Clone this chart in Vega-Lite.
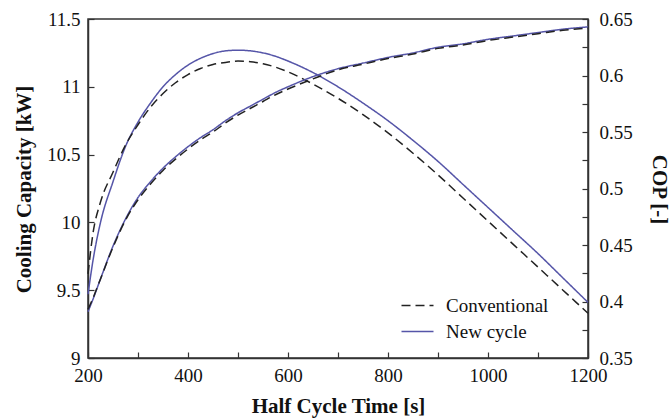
{
  "$schema": "https://vega.github.io/schema/vega-lite/v6.json",
  "width": 500,
  "height": 339,
  "autosize": {"type": "none"},
  "padding": {"left": 88, "top": 19, "right": 82, "bottom": 60},
  "background": "white",
  "config": {
    "font": "Liberation Serif",
    "view": {"stroke": "#333333", "strokeWidth": 1.5},
    "axis": {
      "labelFont": "Liberation Serif",
      "titleFont": "Liberation Serif",
      "labelFontSize": 19,
      "titleFontSize": 21,
      "titleFontWeight": "bold",
      "labelColor": "#111111",
      "titleColor": "#111111",
      "domainColor": "#333333",
      "tickColor": "#333333",
      "domainWidth": 1.5,
      "tickWidth": 1.2,
      "tickSize": -6,
      "grid": false,
      "labelOverlap": false,
      "labelFlush": false
    },
    "legend": {
      "orient": "none",
      "legendX": 320,
      "legendY": 277,
      "title": null,
      "symbolType": "M-2,0H2",
      "symbolSize": 256,
      "symbolStrokeWidth": 1.7,
      "labelFont": "Liberation Serif",
      "labelFontSize": 19,
      "labelColor": "#111111",
      "labelOffset": 19,
      "rowPadding": 6,
      "padding": 0
    }
  },
  "data": {
    "values": [
      {"time": 200, "cycle": "New cycle", "capacity": 9.47, "cop": 0.391},
      {"time": 210, "cycle": "New cycle", "capacity": 9.72, "cop": 0.402},
      {"time": 225, "cycle": "New cycle", "capacity": 10.0, "cop": 0.42},
      {"time": 250, "cycle": "New cycle", "capacity": 10.3, "cop": 0.449},
      {"time": 275, "cycle": "New cycle", "capacity": 10.56, "cop": 0.473},
      {"time": 300, "cycle": "New cycle", "capacity": 10.74, "cop": 0.492},
      {"time": 325, "cycle": "New cycle", "capacity": 10.88, "cop": 0.506},
      {"time": 350, "cycle": "New cycle", "capacity": 11.0, "cop": 0.518},
      {"time": 375, "cycle": "New cycle", "capacity": 11.09, "cop": 0.528},
      {"time": 400, "cycle": "New cycle", "capacity": 11.16, "cop": 0.537},
      {"time": 425, "cycle": "New cycle", "capacity": 11.21, "cop": 0.545},
      {"time": 450, "cycle": "New cycle", "capacity": 11.245, "cop": 0.552},
      {"time": 475, "cycle": "New cycle", "capacity": 11.265, "cop": 0.56},
      {"time": 500, "cycle": "New cycle", "capacity": 11.27, "cop": 0.567},
      {"time": 525, "cycle": "New cycle", "capacity": 11.265, "cop": 0.573},
      {"time": 550, "cycle": "New cycle", "capacity": 11.25, "cop": 0.579},
      {"time": 575, "cycle": "New cycle", "capacity": 11.225, "cop": 0.585},
      {"time": 600, "cycle": "New cycle", "capacity": 11.19, "cop": 0.59},
      {"time": 650, "cycle": "New cycle", "capacity": 11.105, "cop": 0.599},
      {"time": 700, "cycle": "New cycle", "capacity": 11.0, "cop": 0.606},
      {"time": 750, "cycle": "New cycle", "capacity": 10.88, "cop": 0.611},
      {"time": 800, "cycle": "New cycle", "capacity": 10.75, "cop": 0.616},
      {"time": 850, "cycle": "New cycle", "capacity": 10.605, "cop": 0.62},
      {"time": 900, "cycle": "New cycle", "capacity": 10.45, "cop": 0.625},
      {"time": 950, "cycle": "New cycle", "capacity": 10.28, "cop": 0.628},
      {"time": 1000, "cycle": "New cycle", "capacity": 10.11, "cop": 0.632},
      {"time": 1050, "cycle": "New cycle", "capacity": 9.94, "cop": 0.635},
      {"time": 1100, "cycle": "New cycle", "capacity": 9.77, "cop": 0.638},
      {"time": 1150, "cycle": "New cycle", "capacity": 9.59, "cop": 0.641},
      {"time": 1200, "cycle": "New cycle", "capacity": 9.41, "cop": 0.643},
      {"time": 200, "cycle": "Conventional", "capacity": 9.62, "cop": 0.393},
      {"time": 210, "cycle": "Conventional", "capacity": 9.92, "cop": 0.403},
      {"time": 225, "cycle": "Conventional", "capacity": 10.15, "cop": 0.42},
      {"time": 250, "cycle": "Conventional", "capacity": 10.37, "cop": 0.448},
      {"time": 275, "cycle": "Conventional", "capacity": 10.57, "cop": 0.472},
      {"time": 300, "cycle": "Conventional", "capacity": 10.72, "cop": 0.49},
      {"time": 325, "cycle": "Conventional", "capacity": 10.85, "cop": 0.504},
      {"time": 350, "cycle": "Conventional", "capacity": 10.95, "cop": 0.516},
      {"time": 375, "cycle": "Conventional", "capacity": 11.03, "cop": 0.526},
      {"time": 400, "cycle": "Conventional", "capacity": 11.09, "cop": 0.535},
      {"time": 425, "cycle": "Conventional", "capacity": 11.135, "cop": 0.543},
      {"time": 450, "cycle": "Conventional", "capacity": 11.165, "cop": 0.55},
      {"time": 475, "cycle": "Conventional", "capacity": 11.18, "cop": 0.558},
      {"time": 500, "cycle": "Conventional", "capacity": 11.19, "cop": 0.565},
      {"time": 525, "cycle": "Conventional", "capacity": 11.185, "cop": 0.571},
      {"time": 550, "cycle": "Conventional", "capacity": 11.17, "cop": 0.577},
      {"time": 575, "cycle": "Conventional", "capacity": 11.145, "cop": 0.583},
      {"time": 600, "cycle": "Conventional", "capacity": 11.11, "cop": 0.588},
      {"time": 650, "cycle": "Conventional", "capacity": 11.02, "cop": 0.597},
      {"time": 700, "cycle": "Conventional", "capacity": 10.915, "cop": 0.605},
      {"time": 750, "cycle": "Conventional", "capacity": 10.795, "cop": 0.61},
      {"time": 800, "cycle": "Conventional", "capacity": 10.66, "cop": 0.615},
      {"time": 850, "cycle": "Conventional", "capacity": 10.51, "cop": 0.619},
      {"time": 900, "cycle": "Conventional", "capacity": 10.35, "cop": 0.624},
      {"time": 950, "cycle": "Conventional", "capacity": 10.18, "cop": 0.627},
      {"time": 1000, "cycle": "Conventional", "capacity": 10.01, "cop": 0.631},
      {"time": 1050, "cycle": "Conventional", "capacity": 9.84, "cop": 0.634},
      {"time": 1100, "cycle": "Conventional", "capacity": 9.67, "cop": 0.637},
      {"time": 1150, "cycle": "Conventional", "capacity": 9.5, "cop": 0.64},
      {"time": 1200, "cycle": "Conventional", "capacity": 9.33, "cop": 0.642}
    ]
  },
  "encoding": {
    "x": {
      "field": "time",
      "type": "quantitative",
      "scale": {"domain": [200, 1200], "nice": false},
      "axis": {
        "title": "Half Cycle Time [s]",
        "values": [200, 300, 400, 500, 600, 700, 800, 900, 1000, 1100, 1200],
        "labelExpr": "datum.value % 200 == 0 ? format(datum.value, 'd') : ''",
        "labelPadding": 14,
        "titleY": 48,
        "titleBaseline": "middle"
      }
    },
    "color": {
      "field": "cycle",
      "type": "nominal",
      "scale": {"domain": ["Conventional", "New cycle"], "range": ["#222222", "#5555a8"]},
      "legend": {"title": null}
    },
    "strokeDash": {
      "field": "cycle",
      "type": "nominal",
      "scale": {"domain": ["Conventional", "New cycle"], "range": [[9, 5], [1, 0]]},
      "legend": {"title": null}
    }
  },
  "layer": [
    {
      "mark": {"type": "line", "strokeWidth": 1.5, "interpolate": "monotone"},
      "encoding": {
        "y": {
          "field": "capacity",
          "type": "quantitative",
          "scale": {"domain": [9, 11.5], "nice": false, "zero": false},
          "axis": {
            "title": "Cooling Capacity [kW]",
            "orient": "left",
            "values": [9, 9.5, 10, 10.5, 11, 11.5],
            "format": ".1~f",
            "labelPadding": 14,
            "titleX": -64,
            "titleY": 170,
            "titleBaseline": "middle"
          }
        }
      }
    },
    {
      "mark": {"type": "line", "strokeWidth": 1.5, "interpolate": "monotone"},
      "encoding": {
        "y": {
          "field": "cop",
          "type": "quantitative",
          "scale": {"domain": [0.35, 0.65], "nice": false, "zero": false},
          "axis": {
            "title": "COP [-]",
            "orient": "right",
            "values": [0.35, 0.375, 0.4, 0.425, 0.45, 0.475, 0.5, 0.525, 0.55, 0.575, 0.6, 0.625, 0.65],
            "labelExpr": "round(datum.value * 1000) % 50 == 0 ? format(datum.value, '.2~f') : ''",
            "labelPadding": 17,
            "titleX": 70,
            "titleY": 170,
            "titleAngle": 90,
            "titleBaseline": "middle"
          }
        }
      }
    }
  ],
  "resolve": {"scale": {"y": "independent"}}
}
